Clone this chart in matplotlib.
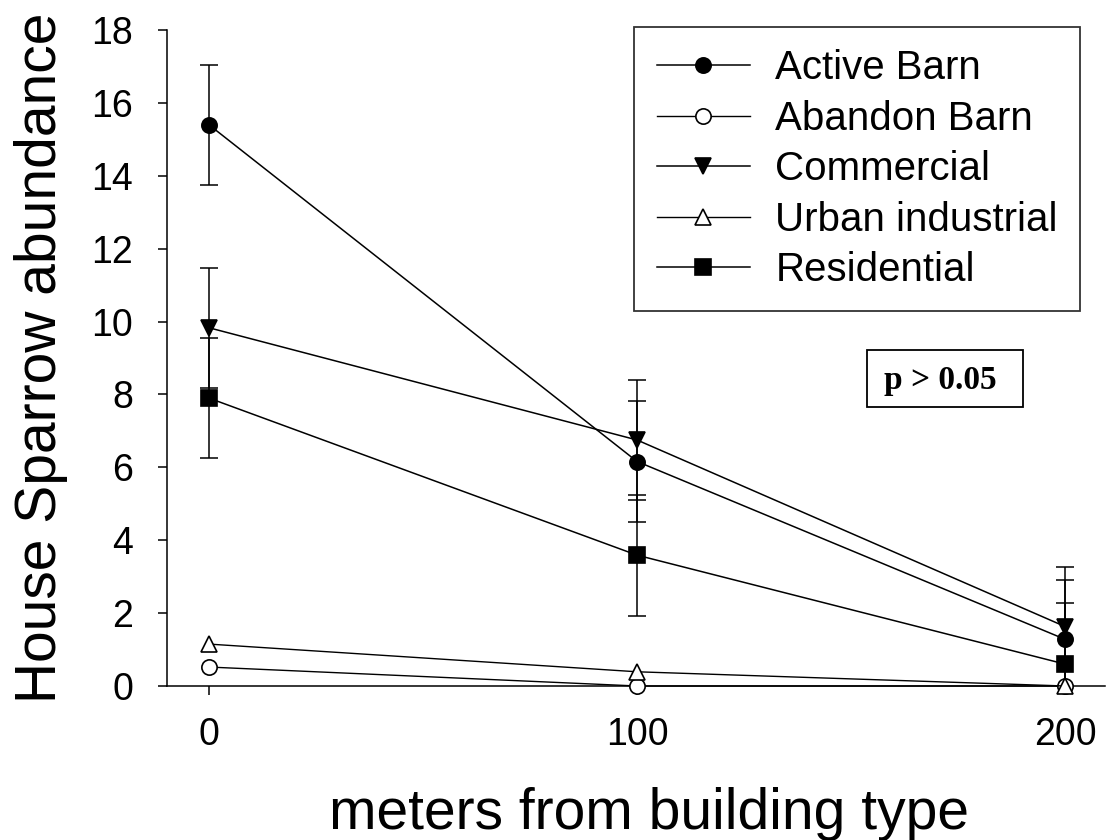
import matplotlib
matplotlib.use('Agg')
import matplotlib.pyplot as plt
from matplotlib.patches import Rectangle

plt.rcParams['font.family'] = ['Liberation Sans', 'DejaVu Sans']

distance = [0, 100, 200]

series_names = ['Active Barn', 'Abandon Barn', 'Commercial', 'Urban industrial', 'Residential']

active_barn = [15.4, 6.16, 1.28]
active_barn_err = [1.65, 1.66, 1.62]
abandon_barn = [0.52, 0.0, 0.0]
commercial = [9.83, 6.75, 1.63]
commercial_err = [1.65, 1.66, 1.64]
urban_industrial = [1.15, 0.39, 0.0]
residential = [7.9, 3.59, 0.6]
residential_err = [1.64, 1.66, 1.67]

y_ticks = [0, 2, 4, 6, 8, 10, 12, 14, 16, 18]
x_ticks = [0, 100, 200]

fig = plt.figure(figsize=(11.09, 8.40), dpi=100)
ax = fig.add_axes([167 / 1109, 1 - 686 / 840, (1105 - 167) / 1109, (686 - 30) / 840])

lw = 1.1
ms = 11

# error bars first, so markers sit on top
for values, errs in [(active_barn, active_barn_err),
                     (commercial, commercial_err),
                     (residential, residential_err)]:
    ax.errorbar(distance, values, yerr=errs, fmt='none', ecolor='black',
                elinewidth=lw, capsize=6.5, capthick=lw, zorder=2)

styles = [
    (active_barn, 'o', 'black', lw),
    (abandon_barn, 'o', 'white', 1.0),
    (commercial, 'v', 'black', lw),
    (urban_industrial, '^', 'white', 1.0),
    (residential, 's', 'black', lw),
]
for name, (values, marker, face, width) in zip(series_names, styles):
    line, = ax.plot(distance, values, '-', marker=marker, color='black', lw=width,
                    ms=ms, mfc=face, mec='black', mew=1.2, label=name, zorder=3)
    line.set_clip_on(False)

ax.set_xlim(-9.8, 209.3)
ax.set_ylim(0, 18)
ax.set_xticks(x_ticks)
ax.set_yticks(y_ticks)
ax.spines['top'].set_visible(False)
ax.spines['right'].set_visible(False)
ax.spines['left'].set_linewidth(1.1)
ax.spines['bottom'].set_linewidth(1.1)
ax.tick_params(axis='both', direction='out', length=6.5, width=1.1, labelsize=27)
ax.tick_params(axis='x', pad=16)
ax.tick_params(axis='y', pad=18)

ax.set_xlabel('meters from building type', fontsize=41)
ax.set_ylabel('House Sparrow abundance', fontsize=41)
ax.xaxis.set_label_coords(0.514, -0.154)
ax.yaxis.set_label_coords(-0.106, 0.5)

leg = ax.legend(loc='upper right', bbox_to_anchor=(1080 / 1109, 1 - 27 / 840),
                bbox_transform=fig.transFigure, fontsize=29, frameon=True,
                fancybox=False, edgecolor='black', handlelength=2.33,
                handletextpad=0.62, labelspacing=0.31, borderpad=0.55,
                borderaxespad=0, markerscale=1.0)
leg.get_frame().set_linewidth(1.3)

ax.add_patch(Rectangle((153.7, 7.66), 36.5, 1.56, facecolor='white',
                       edgecolor='black', linewidth=1.3, zorder=4))
ax.text(170.8, 8.15, 'p > 0.05', fontsize=24, fontweight='bold',
        family=['Liberation Serif', 'DejaVu Serif'], ha='center', va='baseline',
        zorder=5)

fig.savefig('out.png', dpi=100)
